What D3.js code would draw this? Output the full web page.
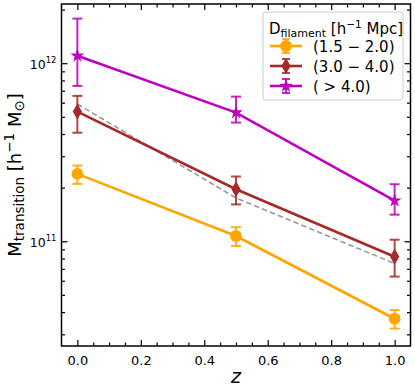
<!DOCTYPE html>
<html>
<head>
<meta charset="utf-8">
<script src="https://cdn.jsdelivr.net/npm/d3@7"></script>
<style>
  body { margin: 0; background: #fff; }
  svg { font-family: "DejaVu Sans", sans-serif; }
</style>
</head>
<body>
<svg id="chart" width="415" height="391"></svg>
<script>
// redshift
const zValues = [0.0, 0.5, 1.0];

// M_transition per filament distance bin, with error bar ends
const bin1 = [2.39e11, 1.07e11, 3.67e10];
const bin1Lo = [2.10e11, 9.4e10, 3.23e10];
const bin1Hi = [2.66e11, 1.20e11, 4.11e10];

const bin2 = [5.35e11, 1.96e11, 8.19e10];
const bin2Lo = [4.07e11, 1.61e11, 6.33e10];
const bin2Hi = [6.55e11, 2.31e11, 1.02e11];

const bin3 = [1.10e12, 5.28e11, 1.69e11];
const bin3Lo = [7.45e11, 4.64e11, 1.41e11];
const bin3Hi = [1.78e12, 6.49e11, 2.09e11];

// grey dashed reference
const refLine = [5.9e11, 1.75e11, 7.5e10];

const seriesNames = ["(1.5 \u2212 2.0)", "(3.0 \u2212 4.0)", "( > 4.0)"];
const seriesColors = ["#FFA500", "#A52A2A", "#BF00BF"];
const seriesMarkers = ["circle", "diamond", "star"];

const xTicks = [0.0, 0.2, 0.4, 0.6, 0.8, 1.0];

const width = 415;
const height = 391;
const margin = { left: 61.5, right: 4.5, top: 4, bottom: 45 };

const svg = d3.select("#chart");

const xScale = d3.scaleLinear()
  .domain([-0.05, 1.05])
  .range([margin.left, width - margin.right]);

const yScale = d3.scaleLog()
  .domain([2.58e10, 2.15e12])
  .range([height - margin.bottom, margin.top]);

const series = [
  { vals: bin1, lo: bin1Lo, hi: bin1Hi },
  { vals: bin2, lo: bin2Lo, hi: bin2Hi },
  { vals: bin3, lo: bin3Lo, hi: bin3Hi }
].map((s, i) => ({
  ...s,
  name: seriesNames[i],
  color: seriesColors[i],
  marker: seriesMarkers[i]
}));

function markerPath(kind) {
  if (kind === "circle") return d3.symbol(d3.symbolCircle, 110)();
  if (kind === "diamond") return d3.symbol(d3.symbolDiamond, 75)();
  return d3.symbol(d3.symbolStar, 60)();
}

const x0 = xScale.range()[0], x1 = xScale.range()[1];
const y0 = yScale.range()[0], y1 = yScale.range()[1];

// axes with inward ticks on all sides
const xMinor = d3.range(0, 21).map(i => i * 0.05).filter(v => !xTicks.some(t => Math.abs(t - v) < 1e-9));
const yMajor = [1e11, 1e12];
const yMinor = [];
[1e10, 1e11, 1e12].forEach(d => {
  for (let k = 2; k <= 9; k++) {
    const v = k * d;
    if (v >= yScale.domain()[0] && v <= yScale.domain()[1]) yMinor.push(v);
  }
});

const bottomMajor = d3.axisBottom(xScale).tickValues(xTicks).tickSizeInner(-6).tickSizeOuter(0)
  .tickFormat(d3.format(".1f")).tickPadding(10);
const bottomMinor = d3.axisBottom(xScale).tickValues(xMinor).tickSizeInner(-3.5).tickSizeOuter(0).tickFormat("");
const topMajor = d3.axisTop(xScale).tickValues(xTicks).tickSizeInner(-6).tickSizeOuter(0).tickFormat("");
const topMinor = d3.axisTop(xScale).tickValues(xMinor).tickSizeInner(-3.5).tickSizeOuter(0).tickFormat("");
const leftMajor = d3.axisLeft(yScale).tickValues(yMajor).tickSizeInner(-6).tickSizeOuter(0).tickFormat("");
const leftMinor = d3.axisLeft(yScale).tickValues(yMinor).tickSizeInner(-3.5).tickSizeOuter(0).tickFormat("");
const rightMajor = d3.axisRight(yScale).tickValues(yMajor).tickSizeInner(-6).tickSizeOuter(0).tickFormat("");
const rightMinor = d3.axisRight(yScale).tickValues(yMinor).tickSizeInner(-3.5).tickSizeOuter(0).tickFormat("");

function addAxis(axis, tx, ty) {
  const g = svg.append("g").attr("transform", `translate(${tx},${ty})`).call(axis);
  g.select(".domain").remove();
  g.selectAll(".tick line").attr("stroke", "#000").attr("stroke-width", 1.2);
  g.selectAll(".tick text").attr("fill", "#000").style("font-size", "13px")
    .attr("font-family", "DejaVu Sans, sans-serif");
  return g;
}

addAxis(bottomMajor, 0, y0);
addAxis(bottomMinor, 0, y0);
addAxis(topMajor, 0, y1);
addAxis(topMinor, 0, y1);
addAxis(leftMajor, x0, 0);
addAxis(leftMinor, x0, 0);
addAxis(rightMajor, x1, 0);
addAxis(rightMinor, x1, 0);

// y tick labels as 10^n
yMajor.forEach(v => {
  const t = svg.append("text")
    .attr("x", x0 - 5)
    .attr("y", yScale(v) + 6)
    .attr("text-anchor", "end")
    .style("font-size", "12.5px");
  t.append("tspan").text("10");
  t.append("tspan").attr("dy", -6).style("font-size", "8.5px").text(Math.round(Math.log10(v)));
});

// grey dashed line
const line = d3.line()
  .x((d, i) => xScale(zValues[i]))
  .y(d => yScale(d));

svg.append("path")
  .attr("d", line(refLine))
  .attr("fill", "none")
  .attr("stroke", "#999")
  .attr("stroke-width", 1.6)
  .attr("stroke-dasharray", "5.5,3");

// series
series.forEach(s => {
  const g = svg.append("g");
  g.append("path")
    .attr("d", line(s.vals))
    .attr("fill", "none")
    .attr("stroke", s.color)
    .attr("stroke-width", 2.6);

  zValues.forEach((z, i) => {
    const cx = xScale(z);
    const yl = yScale(s.lo[i]), yh = yScale(s.hi[i]);
    g.append("line").attr("x1", cx).attr("x2", cx).attr("y1", yl).attr("y2", yh)
      .attr("stroke", s.color).attr("stroke-width", 2).attr("opacity", 0.85);
    [yl, yh].forEach(yy => {
      g.append("line").attr("x1", cx - 5).attr("x2", cx + 5).attr("y1", yy).attr("y2", yy)
        .attr("stroke", s.color).attr("stroke-width", 2).attr("opacity", 0.85);
    });
    g.append("path")
      .attr("d", markerPath(s.marker))
      .attr("transform", `translate(${cx},${yScale(s.vals[i])})`)
      .attr("fill", s.color);
  });
});

// frame
svg.append("rect")
  .attr("x", x0).attr("y", y1)
  .attr("width", x1 - x0).attr("height", y0 - y1)
  .attr("fill", "none").attr("stroke", "#000").attr("stroke-width", 1.5);

// axis labels
svg.append("text")
  .attr("x", (x0 + x1) / 2)
  .attr("y", 383)
  .attr("text-anchor", "middle")
  .style("font-size", "19px")
  .style("font-style", "italic")
  .text("z");

const yl = svg.append("text")
  .attr("transform", `translate(21,${(y0 + y1) / 2}) rotate(-90)`)
  .attr("text-anchor", "middle")
  .style("font-size", "18px");
yl.append("tspan").text("M");
yl.append("tspan").attr("dy", 3).style("font-size", "13.5px").text("transition");
yl.append("tspan").attr("dy", -3).text(" [h");
yl.append("tspan").attr("dy", -7.5).style("font-size", "13.5px").text("\u22121");
yl.append("tspan").attr("dy", 7.5).text(" M");
yl.append("tspan").attr("dy", 3).style("font-size", "13.5px").text("\u2299");
yl.append("tspan").attr("dy", -3).text("]");

// legend
const lg = svg.append("g");
lg.append("rect")
  .attr("x", 263).attr("y", 12)
  .attr("width", 140).attr("height", 88)
  .attr("rx", 3)
  .attr("fill", "#fff").attr("fill-opacity", 0.85)
  .attr("stroke", "#ccc").attr("stroke-width", 1);

const lt = lg.append("text").attr("x", 269).attr("y", 34).style("font-size", "15px");
lt.append("tspan").text("D");
lt.append("tspan").attr("dy", 3).style("font-size", "11px").text("filament");
lt.append("tspan").attr("dy", -3).text(" [h");
lt.append("tspan").attr("dy", -6).style("font-size", "10.5px").text("\u22121");
lt.append("tspan").attr("dy", 6).text(" Mpc]");

series.forEach((s, i) => {
  const yy = 46 + i * 20;
  const cx = 286;
  lg.append("line").attr("x1", 270).attr("x2", 302).attr("y1", yy).attr("y2", yy)
    .attr("stroke", s.color).attr("stroke-width", 2.6);
  lg.append("line").attr("x1", cx).attr("x2", cx).attr("y1", yy - 7).attr("y2", yy + 7)
    .attr("stroke", s.color).attr("stroke-width", 2).attr("opacity", 0.85);
  [yy - 7, yy + 7].forEach(ey => {
    lg.append("line").attr("x1", cx - 4).attr("x2", cx + 4).attr("y1", ey).attr("y2", ey)
      .attr("stroke", s.color).attr("stroke-width", 2).attr("opacity", 0.85);
  });
  lg.append("path").attr("d", markerPath(s.marker))
    .attr("transform", `translate(${cx},${yy})`).attr("fill", s.color);
  lg.append("text").attr("x", 313).attr("y", yy + 5.5).style("font-size", "15px").text(s.name);
});
</script>
</body>
</html>
